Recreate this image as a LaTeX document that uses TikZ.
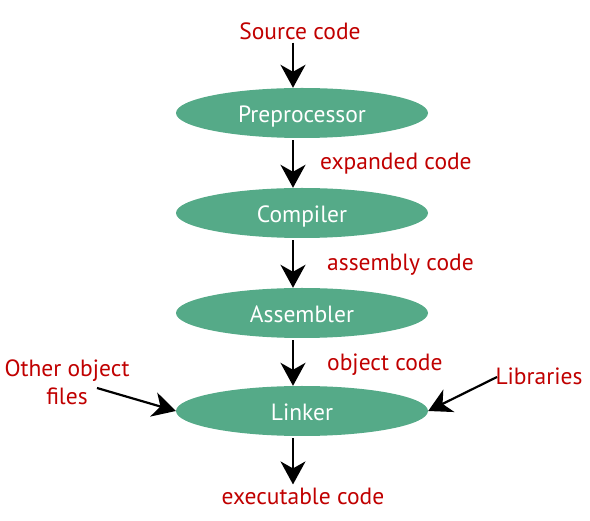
\documentclass[tikz,border=0pt]{standalone}
\usepackage{fontspec}
\setmainfont{PT Sans}
\usetikzlibrary{shapes.geometric,arrows.meta}
\definecolor{eg}{HTML}{55AA88}
\definecolor{lab}{HTML}{C00000}
\begin{document}
\begin{tikzpicture}[x=1pt,y=-1pt,
 stage/.style={ellipse, fill=eg, text=white, minimum width=252pt, minimum height=50pt, inner sep=0pt, text height=19pt, text depth=0pt, font=\fontsize{23.5}{28}\selectfont},
 lbl/.style={text=lab, font=\fontsize{23.5}{28}\selectfont, inner sep=0pt},
 flow/.style={line width=2.2pt, -{Stealth[length=23pt,width=25pt,inset=7pt]}}]
\useasboundingbox (0,0) rectangle (590,521);
\node[stage] (pre) at (302,113) {Preprocessor};
\node[stage] (comp) at (302,213) {Compiler};
\node[stage] (asm) at (302,313) {Assembler};
\node[stage] (link) at (302,411) {Linker};
\node[lbl] (src) at (300,31) {Source code};
\node[lbl, anchor=west] (exp) at (320,164) {expanded code};
\node[lbl, anchor=west] (asc) at (327,265) {assembly code};
\node[lbl, anchor=west] (obj) at (327,365) {object code};
\node[lbl] (exe) at (303,496) {executable code};
\node[lbl, align=center] (other) at (67,382) {Other object\\files};
\node[lbl] (lib) at (539,376) {Libraries};
\coordinate (oa) at (97,388);
\coordinate (la) at (497,377);
\draw[flow] ([xshift=-7pt]src.south) ++(0,3) -- ([xshift=-9pt]pre.north);
\draw[flow] ([xshift=-9pt]pre.south) ++(0,2) -- ([xshift=-9pt]comp.north);
\draw[flow] ([xshift=-9pt]comp.south) ++(0,2) -- ([xshift=-9pt]asm.north);
\draw[flow] ([xshift=-9pt]asm.south) ++(0,2) -- ([xshift=-9pt]link.north);
\draw[flow] ([xshift=-9pt]link.south) ++(0,2) -- ([xshift=-10pt,yshift=3pt]exe.north);
\draw[flow] (oa) -- (link.west);
\draw[flow] (la) -- (link.east);
\end{tikzpicture}
\end{document}
